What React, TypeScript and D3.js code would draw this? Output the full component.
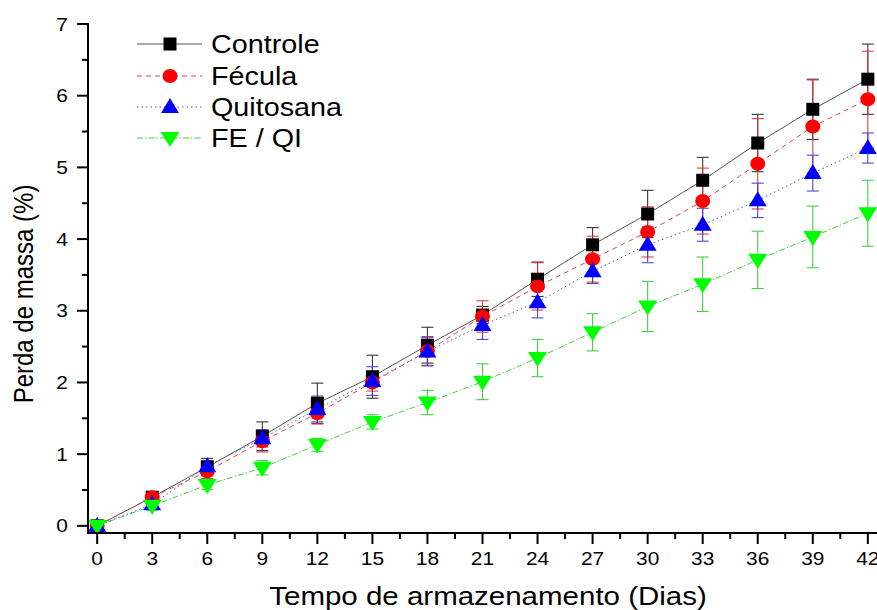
import React from "react";
import * as d3 from "d3";

// Storage time (days) and mass loss (%) per coating treatment
const days = [0, 3, 6, 9, 12, 15, 18, 21, 24, 27, 30, 33, 36, 39, 42];

const controle = [0, 0.40, 0.82, 1.25, 1.71, 2.08, 2.52, 2.94, 3.44, 3.92, 4.35, 4.82, 5.34, 5.81, 6.23];
const controleErr = [0.02, 0.05, 0.12, 0.20, 0.28, 0.30, 0.25, 0.12, 0.24, 0.24, 0.33, 0.32, 0.40, 0.42, 0.49];

const fecula = [0, 0.40, 0.76, 1.18, 1.57, 2.00, 2.44, 2.92, 3.34, 3.72, 4.10, 4.53, 5.05, 5.57, 5.95];
const feculaErr = [0.02, 0.05, 0.10, 0.15, 0.15, 0.12, 0.20, 0.22, 0.33, 0.32, 0.35, 0.46, 0.63, 0.65, 0.67];

const quitosana = [0, 0.30, 0.83, 1.22, 1.63, 2.02, 2.43, 2.80, 3.12, 3.55, 3.92, 4.20, 4.54, 4.92, 5.27];
const quitosanaErr = [0.02, 0.05, 0.08, 0.12, 0.18, 0.20, 0.20, 0.20, 0.22, 0.17, 0.25, 0.23, 0.24, 0.25, 0.21];

const feQi = [0, 0.28, 0.57, 0.81, 1.13, 1.45, 1.72, 2.01, 2.34, 2.70, 3.06, 3.37, 3.71, 4.03, 4.36];
const feQiErr = [0.02, 0.06, 0.06, 0.10, 0.09, 0.10, 0.17, 0.25, 0.26, 0.26, 0.35, 0.38, 0.40, 0.43, 0.46];

const seriesNames = ["Controle", "Fécula", "Quitosana", "FE / QI"];
const yTicks = [0, 1, 2, 3, 4, 5, 6, 7];
const xTicks = days;

type Marker = "square" | "circle" | "up" | "down";

const series = [
  { name: seriesNames[0], values: controle, err: controleErr, marker: "square" as Marker, fill: "#000000", line: "#555555", errColor: "#222222", dash: "" },
  { name: seriesNames[1], values: fecula, err: feculaErr, marker: "circle" as Marker, fill: "#ff0000", line: "#e04848", errColor: "#d83030", dash: "5,4" },
  { name: seriesNames[2], values: quitosana, err: quitosanaErr, marker: "up" as Marker, fill: "#0000ff", line: "#5050d8", errColor: "#3838d0", dash: "1.5,3" },
  { name: seriesNames[3], values: feQi, err: feQiErr, marker: "down" as Marker, fill: "#00ff00", line: "#40d040", errColor: "#30cc30", dash: "6,2,1.5,2" },
];

const W = 877;
const H = 610;
const FONT = "'Liberation Sans', Arial, Helvetica, sans-serif";
const SX = 1.15;

function markerPath(kind: Marker, cx: number, cy: number): string {
  if (kind === "square") {
    const h = 6.5;
    return `M${cx - h},${cy - h}H${cx + h}V${cy + h}H${cx - h}Z`;
  }
  if (kind === "circle") {
    const rx = 7.5, ry = 7;
    return `M${cx - rx},${cy}A${rx},${ry} 0 1,0 ${cx + rx},${cy}A${rx},${ry} 0 1,0 ${cx - rx},${cy}Z`;
  }
  if (kind === "up") {
    const hw = 9, h = 15;
    return `M${cx},${cy - h * 0.6}L${cx + hw},${cy + h * 0.4}L${cx - hw},${cy + h * 0.4}Z`;
  }
  const hw = 9.5, h = 15;
  return `M${cx},${cy + h * 0.6}L${cx + hw},${cy - h * 0.4}L${cx - hw},${cy - h * 0.4}Z`;
}

function HText(props: { x: number; y: number; size: number; anchor?: string; sx?: number; children: React.ReactNode }) {
  const { x, y, size, anchor = "start", sx = SX, children } = props;
  return (
    <text
      transform={`translate(${x},${y}) scale(${sx},1)`}
      fontFamily={FONT}
      fontSize={size}
      textAnchor={anchor}
      fill="#000"
    >
      {children}
    </text>
  );
}

export default function App() {
  const x = d3.scaleLinear().domain([-0.5, 42.5]).range([88, 877]);
  const y = d3.scaleLinear().domain([-0.1, 7]).range([533, 24]);
  const x0 = x.range()[0];
  const yBase = y.range()[0];

  const xMinor = d3.range(1.5, 42.5, 3);
  const yMinor = d3.range(0.5, 7, 1);

  const line = (vals: number[]) =>
    d3.line<number>().x((_, i) => x(days[i])).y((v) => y(v))(vals) || "";

  const legendRows = [44, 76, 107, 138];

  return (
    <svg width={W} height={H} style={{ position: "absolute", left: 0, top: 0, background: "#fff" }}>
      <rect x={0} y={0} width={W} height={H} fill="#fff" />

      {/* series lines */}
      {series.map((s) => (
        <path key={s.name + "-line"} d={line(s.values)} fill="none" stroke={s.line} strokeWidth={1} strokeDasharray={s.dash || undefined} />
      ))}

      {/* error bars */}
      {series.map((s) => (
        <g key={s.name + "-err"} stroke={s.errColor} strokeWidth={1.1} opacity={0.9}>
          {s.values.map((v, i) => {
            const cx = x(days[i]);
            const top = y(v + s.err[i]);
            const bot = y(v - s.err[i]);
            return (
              <g key={i}>
                <line x1={cx} x2={cx} y1={top} y2={bot} />
                <line x1={cx - 6} x2={cx + 6} y1={top} y2={top} />
                <line x1={cx - 6} x2={cx + 6} y1={bot} y2={bot} />
              </g>
            );
          })}
        </g>
      ))}

      {/* markers */}
      {series.map((s) => (
        <g key={s.name + "-mk"} fill={s.fill}>
          {s.values.map((v, i) => (
            <path key={i} d={markerPath(s.marker, x(days[i]), y(v))} />
          ))}
        </g>
      ))}

      {/* axes */}
      <g stroke="#000" strokeWidth={2}>
        <line x1={x0} x2={x0} y1={y.range()[1] - 1} y2={yBase + 1} />
        <line x1={x0 - 1} x2={W} y1={yBase} y2={yBase} />
      </g>
      <g stroke="#000" strokeWidth={2}>
        {yTicks.map((t) => (
          <line key={"yt" + t} x1={x0 - 11} x2={x0} y1={y(t)} y2={y(t)} />
        ))}
        {yMinor.map((t) => (
          <line key={"ym" + t} x1={x0 - 6} x2={x0} y1={y(t)} y2={y(t)} />
        ))}
        {xTicks.map((t) => (
          <line key={"xt" + t} x1={x(t)} x2={x(t)} y1={yBase} y2={yBase + 11} />
        ))}
        {xMinor.map((t) => (
          <line key={"xm" + t} x1={x(t)} x2={x(t)} y1={yBase} y2={yBase + 6} />
        ))}
      </g>
      {yTicks.map((t) => (
        <HText key={"yl" + t} x={68} y={y(t) + 6.5} size={19} anchor="end" sx={1.1}>
          {t}
        </HText>
      ))}
      {xTicks.map((t) => (
        <HText key={"xl" + t} x={x(t)} y={565} size={19} anchor="middle" sx={1.1}>
          {t}
        </HText>
      ))}

      {/* axis titles */}
      <HText x={488} y={605} size={25} anchor="middle" sx={1.18}>
        Tempo de armazenamento (Dias)
      </HText>
      <text
        transform={`translate(33,294) scale(${SX},1) rotate(-90)`}
        fontFamily={FONT}
        fontSize={24}
        textAnchor="middle"
        fill="#000"
      >
        Perda de massa (%)
      </text>

      {/* legend */}
      {series.map((s, i) => {
        const cy = legendRows[i];
        return (
          <g key={s.name + "-lg"}>
            <line x1={137} x2={202} y1={cy} y2={cy} stroke={s.line} strokeWidth={1.2} strokeDasharray={s.dash || undefined} />
            <path d={markerPath(s.marker, 170, cy)} fill={s.fill} />
            <HText x={211} y={cy + 9} size={25} sx={1.15}>
              {s.name}
            </HText>
          </g>
        );
      })}
    </svg>
  );
}
